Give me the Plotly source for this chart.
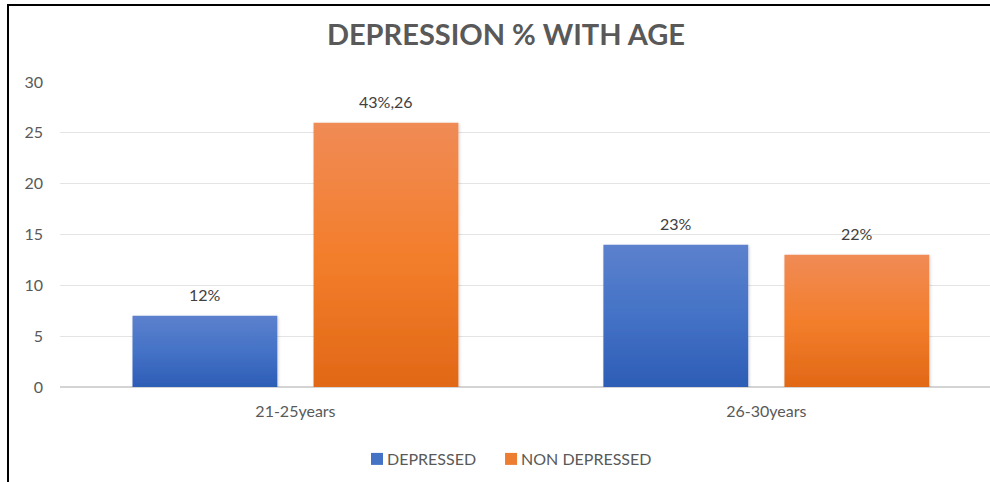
import plotly.graph_objects as go

# ---- data ----
age_groups = ["21-25years", "26-30years"]
depressed = [7, 14]
non_depressed = [26, 13]
depressed_labels = ["12%", "23%"]
non_depressed_labels = ["43%,26", "22%"]
series_names = ["DEPRESSED", "NON DEPRESSED"]
y_ticks = [0, 5, 10, 15, 20, 25, 30]

# ---- styling ----
FONT = "Lato, Carlito, 'Open Sans', sans-serif"
TEXT_GREY = "#595959"
LABEL_GREY = "#404040"
BLUE = "#4472c4"
ORANGE = "#ed7d31"
BAR_GAP = 0.231
GROUP_GAP = 0.2

W, H = 990, 482
M_L, M_R, M_T, M_B = 60, 0, 82, 95

fig = go.Figure()
fig.add_trace(go.Bar(name=series_names[0], x=age_groups, y=depressed,
                     marker=dict(color=BLUE, line=dict(width=0))))
fig.add_trace(go.Bar(name=series_names[1], x=age_groups, y=non_depressed,
                     marker=dict(color=ORANGE, line=dict(width=0))))

# value labels above each bar, placed at the bar centres of each group
slot = (1 - BAR_GAP) / 2
annotations = []
for series, labels, side in ((depressed, depressed_labels, -1),
                             (non_depressed, non_depressed_labels, 1)):
    for i, (v, t) in enumerate(zip(series, labels)):
        annotations.append(dict(
            x=i + side * slot / 2, y=v, xref="x", yref="y", text=t,
            showarrow=False, yanchor="bottom", yshift=10,
            font=dict(family=FONT, size=16, color=LABEL_GREY)))

# frame lines on the left and top edges
plot_w = W - M_L - M_R
plot_h = H - M_T - M_B
def px_x(px):
    return (px - M_L) / plot_w
def px_y(py):
    return (H - M_B - py) / plot_h

shapes = [
    dict(type="line", xref="paper", yref="paper",
         x0=px_x(8), x1=px_x(8), y0=px_y(4), y1=px_y(H + 5),
         line=dict(color="#000000", width=2)),
    dict(type="line", xref="paper", yref="paper",
         x0=px_x(7), x1=px_x(W + 5), y0=px_y(5), y1=px_y(5),
         line=dict(color="#000000", width=2)),
]

fig.update_layout(
    width=W, height=H,
    margin=dict(l=M_L, r=M_R, t=M_T, b=M_B, pad=0),
    paper_bgcolor="white", plot_bgcolor="white",
    font=dict(family=FONT, size=16, color=TEXT_GREY),
    title=dict(text="<b>DEPRESSION % WITH AGE</b>", x=0.511, y=1 - 35 / H,
               xanchor="center", yanchor="middle",
               font=dict(family=FONT, size=29, color=TEXT_GREY)),
    barmode="group", bargap=BAR_GAP, bargroupgap=GROUP_GAP,
    showlegend=True,
    legend=dict(orientation="h", x=px_x(502), y=px_y(459),
                xanchor="center", yanchor="middle",
                font=dict(family=FONT, size=16, color=TEXT_GREY),
                itemwidth=30, traceorder="normal"),
    xaxis=dict(range=[-0.5, 1.475], showgrid=False, showline=False,
               zeroline=False, ticks="", ticklabelstandoff=13,
               tickfont=dict(family=FONT, size=16, color=TEXT_GREY)),
    yaxis=dict(range=[0, 30], tickvals=y_ticks, showgrid=True,
               gridcolor="#e4e4e4", gridwidth=1, zeroline=True,
               zerolinecolor="#d4d4d4", zerolinewidth=2, showline=False,
               ticks="", ticklabelstandoff=16,
               tickfont=dict(family=FONT, size=16, color=TEXT_GREY)),
    annotations=annotations,
    shapes=shapes,
)

# vertical light-to-dark fills and a soft shadow on the bars;
# legend swatches sit close to their text
post_js = """
(function(){
  var gd = document.getElementById('{plot_id}');
  var ns = 'http://www.w3.org/2000/svg';
  var grads = [
    ['barGradBlue',   ['#5c81cd', '#4472c6', '#2d5db6']],
    ['barGradOrange', ['#f08b56', '#f37e2c', '#e16816']]
  ];
  function decorate(){
    var svg = gd.querySelector('svg.main-svg');
    if (!svg) return;
    var defs = svg.querySelector('defs');
    if (!defs) { defs = document.createElementNS(ns, 'defs'); svg.insertBefore(defs, svg.firstChild); }
    if (!svg.querySelector('#barGradBlue')) {
      grads.forEach(function(g){
        var lg = document.createElementNS(ns, 'linearGradient');
        lg.setAttribute('id', g[0]);
        lg.setAttribute('x1', '0'); lg.setAttribute('y1', '0');
        lg.setAttribute('x2', '0'); lg.setAttribute('y2', '1');
        g[1].forEach(function(c, k){
          var st = document.createElementNS(ns, 'stop');
          st.setAttribute('offset', (k / (g[1].length - 1) * 100) + '%');
          st.setAttribute('stop-color', c);
          lg.appendChild(st);
        });
        defs.appendChild(lg);
      });
      var f = document.createElementNS(ns, 'filter');
      f.setAttribute('id', 'barShadow');
      f.setAttribute('x', '-10%'); f.setAttribute('y', '-10%');
      f.setAttribute('width', '120%'); f.setAttribute('height', '120%');
      var ds = document.createElementNS(ns, 'feDropShadow');
      ds.setAttribute('dx', '1'); ds.setAttribute('dy', '1');
      ds.setAttribute('stdDeviation', '1.5');
      ds.setAttribute('flood-color', '#000000');
      ds.setAttribute('flood-opacity', '0.18');
      f.appendChild(ds);
      defs.appendChild(f);
    }
    var traces = gd.querySelectorAll('.barlayer .trace');
    traces.forEach(function(t, i){
      if (i >= grads.length) return;
      t.querySelectorAll('path').forEach(function(p){
        p.style.fill = 'url(#' + grads[i][0] + ')';
        p.setAttribute('filter', 'url(#barShadow)');
      });
    });
    gd.querySelectorAll('.legend .legendpoints').forEach(function(g){
      g.setAttribute('transform', 'translate(10,0)');
    });
  }
  decorate();
  if (gd.on) gd.on('plotly_afterplot', decorate);
})();
"""

fig.write_html("out.html", post_script=post_js)
